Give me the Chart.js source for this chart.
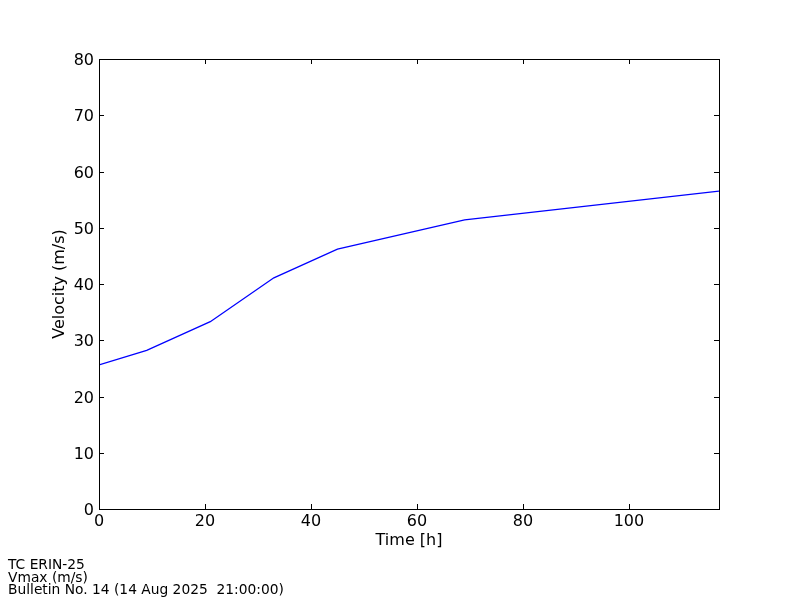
<!DOCTYPE html>
<html>
<head>
<meta charset="utf-8">
<script src="https://cdn.jsdelivr.net/npm/chart.js@4"></script>
<style>
  html, body { margin: 0; padding: 0; background: #fff; }
  #wrap { width: 800px; height: 600px; position: relative; }
</style>
</head>
<body>
<div id="wrap"><canvas id="c" width="800" height="600"></canvas></div>
<script>
// hours since bulletin and max wind speed
const hours = [0, 9, 21, 33, 45, 69, 117];
const vmax = [25.6, 28.2, 33.3, 41.1, 46.2, 51.4, 56.5];
const xTicks = [0, 20, 40, 60, 80, 100];
const yTicks = [0, 10, 20, 30, 40, 50, 60, 70, 80];
const footer = ['TC ERIN-25', 'Vmax (m/s)', 'Bulletin No. 14 (14 Aug 2025  21:00:00)'];

const FONT = 'DejaVu Sans';

// box + inward ticks on all four sides, like matplotlib
const frame = {
  id: 'frame',
  afterDraw(chart) {
    const c = chart.ctx, a = chart.chartArea;
    const xs = chart.scales.x, ys = chart.scales.y;
    const L = 5;
    c.save();
    c.strokeStyle = '#000';
    c.lineWidth = 1;
    c.beginPath();
    xTicks.forEach(v => {
      const px = Math.round(xs.getPixelForValue(v)) + 0.5;
      c.moveTo(px, a.bottom); c.lineTo(px, a.bottom - L);
      c.moveTo(px, a.top); c.lineTo(px, a.top + L);
    });
    yTicks.forEach(v => {
      const py = Math.round(ys.getPixelForValue(v)) + 0.5;
      c.moveTo(a.left, py); c.lineTo(a.left + L, py);
      c.moveTo(a.right, py); c.lineTo(a.right - L, py);
    });
    c.stroke();
    c.strokeRect(Math.round(a.left) + 0.5, Math.round(a.top) + 0.5,
                 Math.round(a.right - a.left), Math.round(a.bottom - a.top));
    // footer lines
    c.fillStyle = '#000';
    c.font = '13.8px "' + FONT + '"';
    c.textBaseline = 'alphabetic';
    c.textAlign = 'left';
    footer.forEach((t, i) => c.fillText(t, 8, 569 + i * 12.5));
    c.restore();
  }
};

new Chart(document.getElementById('c'), {
  type: 'line',
  data: {
    datasets: [{
      data: hours.map((h, i) => ({x: h, y: vmax[i]})),
      borderColor: '#0000ff',
      borderWidth: 1.3,
      pointRadius: 0,
      tension: 0,
      fill: false
    }]
  },
  options: {
    responsive: false,
    animation: false,
    events: [],
    layout: { padding: { left: 0, right: 81, top: 59, bottom: 50 } },
    plugins: { legend: { display: false }, tooltip: { enabled: false } },
    scales: {
      x: {
        type: 'linear',
        min: 0, max: 117,
        grid: { display: false, drawTicks: false },
        border: { display: false },
        afterFit: s => { s.height = 41; },
        ticks: {
          stepSize: 20, includeBounds: false, autoSkip: false, maxRotation: 0,
          padding: 3, color: '#000', font: { family: FONT, size: 16 }
        },
        title: {
          display: true, text: 'Time [h]', color: '#000',
          font: { family: FONT, size: 16 }, padding: { top: 0, bottom: 0 }
        }
      },
      y: {
        min: 0, max: 80,
        grid: { display: false, drawTicks: false },
        border: { display: false },
        afterFit: s => { s.width = 99; },
        ticks: {
          stepSize: 10, autoSkip: false, padding: 5, labelOffset: 2, color: '#000',
          font: { family: FONT, size: 16 }
        },
        title: {
          display: true, text: 'Velocity (m/s)', color: '#000',
          font: { family: FONT, size: 16 }, padding: { top: 50, bottom: 0 }
        }
      }
    }
  },
  plugins: [frame]
});
</script>
</body>
</html>
